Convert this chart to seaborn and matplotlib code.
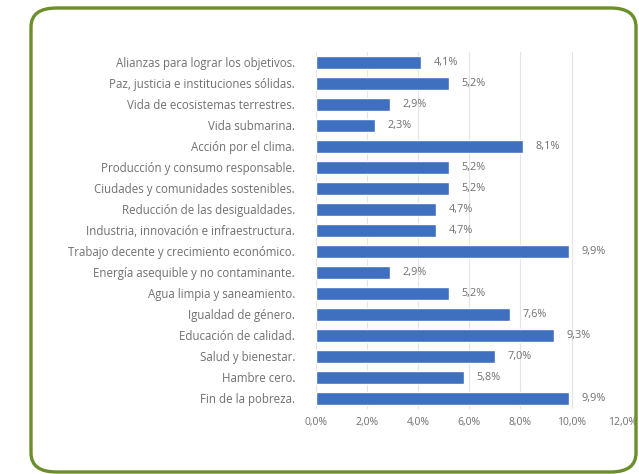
import matplotlib
matplotlib.use("Agg")
import matplotlib.pyplot as plt
import seaborn as sns
import pandas as pd
from matplotlib.patches import FancyBboxPatch

categorias = [
    "Alianzas para lograr los objetivos.",
    "Paz, justicia e instituciones sólidas.",
    "Vida de ecosistemas terrestres.",
    "Vida submarina.",
    "Acción por el clima.",
    "Producción y consumo responsable.",
    "Ciudades y comunidades sostenibles.",
    "Reducción de las desigualdades.",
    "Industria, innovación e infraestructura.",
    "Trabajo decente y crecimiento económico.",
    "Energía asequible y no contaminante.",
    "Agua limpia y saneamiento.",
    "Igualdad de género.",
    "Educación de calidad.",
    "Salud y bienestar.",
    "Hambre cero.",
    "Fin de la pobreza.",
]
porcentajes = [4.1, 5.2, 2.9, 2.3, 8.1, 5.2, 5.2, 4.7, 4.7, 9.9, 2.9, 5.2, 7.6, 9.3, 7.0, 5.8, 9.9]
ticks_x = [0, 2, 4, 6, 8, 10, 12]

df = pd.DataFrame({"ods": categorias, "pct": porcentajes})

sns.set_theme(style="white")
plt.rcParams["font.family"] = ["Open Sans", "DejaVu Sans"]

gris = "#707070"
fig = plt.figure(figsize=(6.39, 4.74), dpi=100)

# green rounded frame
marco = FancyBboxPatch((31 / 639, 1 - 472 / 474), 605 / 639, 464 / 474,
                       boxstyle="round,pad=0,rounding_size=0.04",
                       transform=fig.transFigure, fill=False,
                       edgecolor="#6a8f2b", linewidth=2.4)
fig.patches.append(marco)

ax = fig.add_axes([0.4945, 0.138, 0.48, 0.753])
sns.barplot(data=df, x="pct", y="ods", orient="h", color="#3f6fbf",
            saturation=1, width=0.62, ax=ax)

ax.set_xlim(0, 12)
ax.set_xticks(ticks_x)
ax.set_xticklabels([f"{t:.1f}%".replace(".", ",") for t in ticks_x],
                   color=gris, fontsize=7.5)
ax.tick_params(axis="y", labelsize=8.3, colors=gris, length=0, pad=15)
ax.tick_params(axis="x", length=0, pad=6)
ax.grid(axis="x", color="#e4e4e4", linewidth=0.8)
ax.set_axisbelow(True)
for s in ax.spines.values():
    s.set_visible(False)
ax.set_xlabel("")
ax.set_ylabel("")

etiquetas = [f"{v:.1f}%".replace(".", ",") for v in porcentajes]
ax.bar_label(ax.containers[0], labels=etiquetas, padding=9,
             fontsize=7.8, color=gris)

fig.savefig("out.png", dpi=100)
